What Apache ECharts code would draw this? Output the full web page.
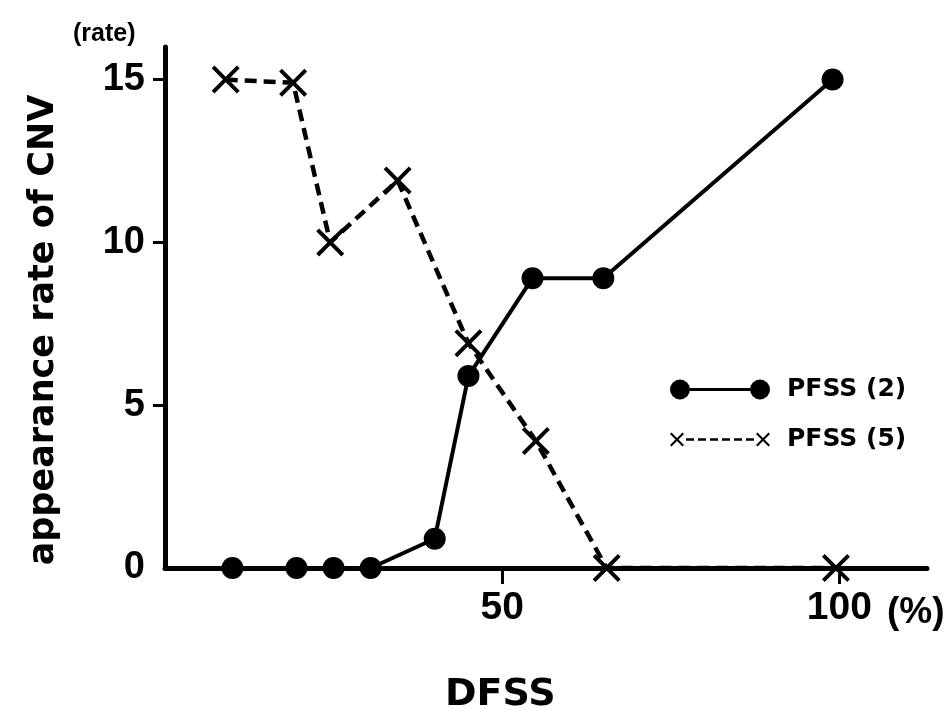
<!DOCTYPE html>
<html>
<head>
<meta charset="utf-8">
<script src="https://cdn.jsdelivr.net/npm/echarts@6/dist/echarts.min.js"></script>
<style>
  html, body { margin: 0; padding: 0; background: #fff; }
  #chart { width: 949px; height: 709px; }
</style>
</head>
<body>
<div id="chart"></div>
<script>
// PFSS (2) - solid line with filled circles
const pfss2X = [10, 19.5, 25, 30.5, 40, 45, 54.5, 65, 99]
const pfss2Y = [0, 0, 0, 0, 0.9, 5.9, 8.9, 8.9, 15]
// PFSS (5) - dashed line with crosses
const pfss5X = [9, 19, 24.5, 34.5, 45, 55, 65.5, 99.5]
const pfss5Y = [15, 14.9, 10, 11.9, 6.9, 3.9, 0, 0]

const xTickValues = [50, 100]
const yTickValues = [5, 10, 15]
const yLabelValues = [0, 5, 10, 15]

const toPairs = (xs, ys) => xs.map((x, i) => [x, ys[i]])

const crossPath = 'path://M0,2 L2,0 L10,8 L18,0 L20,2 L12,10 L20,18 L18,20 L10,12 L2,20 L0,18 L8,10 Z'
const legendCircleIcon = 'path://M0,10 A10,10 0 1 1 20,10 A10,10 0 1 1 0,10 Z M20,8.5 L80,8.5 L80,11.5 L20,11.5 Z M80,10 A10,10 0 1 1 100,10 A10,10 0 1 1 80,10 Z'
const legendCrossIcon = 'path://M0,1.5 L1.5,0 L7,5.5 L12.5,0 L14,1.5 L8.5,7 L14,12.5 L12.5,14 L7,8.5 L1.5,14 L0,12.5 L5.5,7 Z ' +
  'M16,5.8 L24,5.8 L24,8.2 L16,8.2 Z M28,5.8 L36,5.8 L36,8.2 L28,8.2 Z M40,5.8 L48,5.8 L48,8.2 L40,8.2 Z ' +
  'M52,5.8 L60,5.8 L60,8.2 L52,8.2 Z M64,5.8 L72,5.8 L72,8.2 L64,8.2 Z M76,5.8 L84,5.8 L84,8.2 L76,8.2 Z ' +
  'M86,1.5 L87.5,0 L93,5.5 L98.5,0 L100,1.5 L94.5,7 L100,12.5 L98.5,14 L93,8.5 L87.5,14 L86,12.5 L91.5,7 Z'

const chart = echarts.init(document.getElementById('chart'))

const option = {
  animation: false,
  backgroundColor: '#fff',
  title: [
    {
      text: '(rate)',
      left: 68,
      top: 17,
      textStyle: { fontFamily: 'Liberation Sans', fontSize: 25, fontWeight: 'bold', color: '#000' },
    },
    {
      text: '(%)',
      left: 882,
      top: 589,
      textStyle: { fontFamily: 'Liberation Sans', fontSize: 37, fontWeight: 'bold', color: '#000' },
    },
    {
      text: 'DFSS',
      left: 440,
      top: 671,
      textStyle: { fontFamily: 'DejaVu Sans', fontSize: 38, fontWeight: 'bold', color: '#000' },
    },
  ],
  graphic: [
    {
      type: 'text',
      x: 44,
      y: 330,
      rotation: Math.PI / 2,
      style: {
        text: 'appearance rate of CNV',
        fill: '#000',
        font: 'bold 35px "DejaVu Sans"',
        align: 'center',
        verticalAlign: 'middle',
      },
    },
  ],
  legend: {
    orient: 'vertical',
    left: 665,
    top: 372,
    itemWidth: 100,
    itemHeight: 20,
    itemGap: 25,
    symbolKeepAspect: true,
    itemStyle: { borderWidth: 0 },
    textStyle: {
      fontFamily: 'DejaVu Sans',
      fontSize: 25,
      fontWeight: 'bold',
      color: '#000',
      padding: [0, 0, 0, 12],
    },
    data: [
      { name: 'PFSS (2)', icon: legendCircleIcon },
      { name: 'PFSS (5)', icon: legendCrossIcon },
    ],
  },
  grid: {
    left: 165,
    right: 22,
    top: 47,
    bottom: 141,
  },
  xAxis: {
    type: 'value',
    min: 0,
    max: 113,
    axisLine: { lineStyle: { color: '#000', width: 5, cap: 'round' } },
    axisTick: {
      show: true,
      length: 16,
      lineStyle: { color: '#000', width: 3 },
      customValues: xTickValues,
    },
    axisLabel: {
      margin: 21,
      fontFamily: 'Liberation Sans',
      fontSize: 39,
      fontWeight: 'bold',
      color: '#000',
      customValues: xTickValues,
    },
    splitLine: { show: false },
  },
  yAxis: {
    type: 'value',
    min: 0,
    max: 16,
    axisLine: { show: true, lineStyle: { color: '#000', width: 5 } },
    axisTick: {
      show: true,
      length: 12,
      lineStyle: { color: '#000', width: 3 },
      customValues: yTickValues,
    },
    axisLabel: {
      margin: 20,
      fontFamily: 'Liberation Sans',
      fontSize: 38,
      fontWeight: 'bold',
      color: '#000',
      customValues: yLabelValues,
    },
    splitLine: { show: false },
  },
  series: [
    {
      name: 'PFSS (5)',
      type: 'line',
      data: toPairs(pfss5X, pfss5Y),
      symbol: crossPath,
      symbolSize: 28,
      itemStyle: { color: '#000' },
      lineStyle: { color: '#000', width: 4.5, type: [12, 7] },
      z: 3,
    },
    {
      name: 'PFSS (2)',
      type: 'line',
      data: toPairs(pfss2X, pfss2Y),
      symbol: 'circle',
      symbolSize: 22,
      itemStyle: { color: '#000' },
      lineStyle: { color: '#000', width: 4 },
      z: 4,
    },
  ],
}

chart.setOption(option)
</script>
</body>
</html>
